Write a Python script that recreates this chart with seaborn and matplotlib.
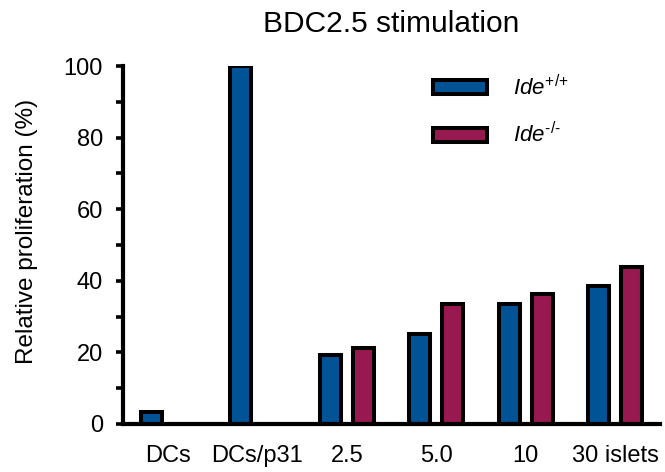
import numpy as np
import pandas as pd
import matplotlib
matplotlib.use("Agg")
import matplotlib.pyplot as plt
import seaborn as sns
from matplotlib.patches import Patch

categories = ["DCs", "DCs/p31", "2.5", "5.0", "10", "30 islets"]
ide_wt = [3.3, 100, 19.2, 25.2, 33.6, 38.6]
ide_ko = [np.nan, np.nan, 21.2, 33.6, 36.3, 43.8]
genotypes = ["Ide+/+", "Ide-/-"]
legend_labels = [r"$\mathit{Ide}^{\mathit{{+}/{+}}}$", "$\\mathit{Ide}^{\\mathit{\u2010/\u2010}}$"]
colors = ["#005495", "#97194f"]

sns.set_theme(style="ticks")
plt.rcParams["font.family"] = ["Liberation Sans", "DejaVu Sans"]
plt.rcParams["mathtext.fontset"] = "custom"
plt.rcParams["mathtext.it"] = "Liberation Sans:italic"
plt.rcParams["mathtext.rm"] = "Liberation Sans"
plt.rcParams["text.color"] = "black"
plt.rcParams["axes.labelcolor"] = "black"
plt.rcParams["xtick.color"] = "black"
plt.rcParams["ytick.color"] = "black"
plt.rcParams["axes.edgecolor"] = "black"

df = pd.DataFrame({
    "condition": categories * 2,
    "genotype": [genotypes[0]] * len(categories) + [genotypes[1]] * len(categories),
    "value": ide_wt + ide_ko,
})

fig = plt.figure(figsize=(6.65, 4.72), dpi=100)
ax = fig.add_axes([123/665, 1-424/472, (660-123)/665, (424-66)/472])

sns.barplot(data=df, x="condition", y="value", hue="genotype", order=categories,
            hue_order=genotypes, palette=colors, width=0.74, gap=0.36,
            edgecolor="black", linewidth=2.9, ax=ax, legend=False, saturation=1)

ax.set_xlim(-0.5, 5.5)
ax.set_ylim(0, 100)
ax.set_yticks([0, 20, 40, 60, 80, 100])
ax.set_yticks([10, 30, 50, 70, 90], minor=True)
ax.tick_params(axis="y", which="both", direction="out", length=5, width=2.6,
               labelsize=17, pad=9.5, colors="black")
ax.tick_params(axis="x", length=0, labelsize=17, pad=15, colors="black")
for side in ["top", "right"]:
    ax.spines[side].set_visible(False)
for side in ["left", "bottom"]:
    ax.spines[side].set_linewidth(3)
ax.set_xlabel("")
ax.set_ylabel("Relative proliferation (%)", fontsize=17.5, color="black")
ax.yaxis.set_label_coords(-0.158, 0.538)

handles = [Patch(facecolor=c, edgecolor="black", linewidth=2.9) for c in colors]
ax.legend(handles, legend_labels, loc="upper left", bbox_to_anchor=(0.578, 0.975),
          frameon=False, fontsize=16, handlelength=2.4, handleheight=0.6,
          handletextpad=1.2, labelspacing=1.0, borderpad=0, borderaxespad=0)

fig.text((123+660)/2/665, 1-31.7/472, "BDC2.5 stimulation", ha="center",
         va="baseline", fontsize=21.5, color="black")

fig.savefig("out.png", dpi=100)
